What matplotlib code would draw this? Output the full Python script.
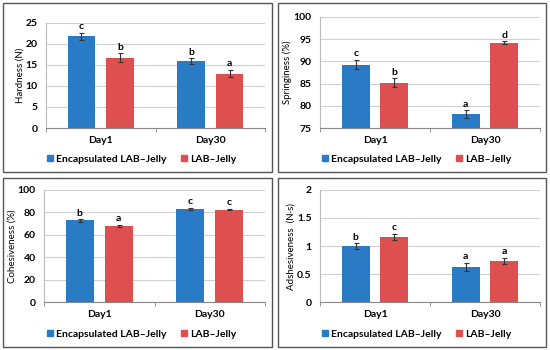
import matplotlib.pyplot as plt
from matplotlib.patches import Rectangle
from matplotlib.lines import Line2D
import numpy as np

plt.rcParams['font.family'] = ['Lato', 'DejaVu Sans']

days = ['Day1', 'Day30']
series = ['Encapsulated LAB\u2013Jelly', 'LAB\u2013Jelly']

hard_enc = [21.8, 15.9]
hard_enc_err = [0.8, 0.7]
hard_lab = [16.7, 12.9]
hard_lab_err = [1.0, 0.9]
hard_let_enc = ['c', 'b']
hard_let_lab = ['b', 'a']

spr_enc = [89.3, 78.1]
spr_enc_err = [1.1, 0.9]
spr_lab = [85.2, 94.2]
spr_lab_err = [1.0, 0.3]
spr_let_enc = ['c', 'a']
spr_let_lab = ['b', 'd']

coh_enc = [72.8, 83.0]
coh_enc_err = [1.0, 1.0]
coh_lab = [68.0, 82.5]
coh_lab_err = [0.7, 0.5]
coh_let_enc = ['b', 'c']
coh_let_lab = ['a', 'c']

adh_enc = [1.00, 0.63]
adh_enc_err = [0.05, 0.07]
adh_lab = [1.16, 0.73]
adh_lab_err = [0.06, 0.06]
adh_let_enc = ['b', 'a']
adh_let_lab = ['c', 'a']

BLUE = '#2A7BC6'
RED = '#DE4F4F'
W, H = 550, 350

fig = plt.figure(figsize=(5.5, 3.5), dpi=100)


def px_axes(left, right, top, bottom):
    return fig.add_axes([left / W, (H - bottom) / H, (right - left) / W, (bottom - top) / H])


def frame(x0, x1, y0, y1):
    fig.patches.append(Rectangle((x0 / W, (H - y1) / H), (x1 - x0) / W, (y1 - y0) / H,
                                 transform=fig.transFigure, fill=False,
                                 edgecolor='#555555', linewidth=1.0))


def panel(box, ax_box, enc, enc_err, lab, lab_err, let_enc, let_lab, ylim, step, ylabel, leg_x, leg_y):
    frame(*box)
    ax = px_axes(*ax_box)
    x = np.arange(len(days))
    bw = 0.255
    off = 0.176
    ek = dict(ecolor='#333333', elinewidth=0.8, capsize=1.8, capthick=0.8)
    ax.bar(x - off, enc, bw, color=BLUE, yerr=enc_err, error_kw=ek, zorder=3)
    ax.bar(x + off, lab, bw, color=RED, yerr=lab_err, error_kw=ek, zorder=3)
    pad = (ylim[1] - ylim[0]) * 0.015
    for i in range(len(days)):
        ax.text(x[i] - off, enc[i] + enc_err[i] + pad, let_enc[i], ha='center', va='bottom',
                fontsize=7.5, fontweight='bold')
        ax.text(x[i] + off, lab[i] + lab_err[i] + pad, let_lab[i], ha='center', va='bottom',
                fontsize=7.5, fontweight='bold')
    ax.set_xlim(-0.5, 1.5)
    ax.set_ylim(*ylim)
    ax.set_yticks(np.arange(ylim[0], ylim[1] + step / 2, step))
    ax.yaxis.set_major_formatter(plt.FuncFormatter(lambda v, p: ('%g' % v)))
    ax.set_xticks(x)
    ax.set_xticklabels(days, fontweight='bold', fontsize=7.5)
    ax.set_xticks([-0.5, 0.5, 1.5], minor=True)
    ax.tick_params(axis='x', which='major', length=0, pad=6)
    ax.tick_params(axis='x', which='minor', length=3, color='#888888')
    ax.tick_params(axis='y', length=0, labelsize=7.5, pad=6)
    for t in ax.get_yticklabels():
        t.set_fontweight('bold')
    ax.grid(axis='y', color='#D0D0D0', linewidth=0.8, zorder=0)
    ax.set_axisbelow(True)
    for s in ['top', 'right']:
        ax.spines[s].set_visible(False)
    ax.spines['left'].set_color('#BBBBBB')
    ax.spines['bottom'].set_color('#888888')
    ax.set_ylabel(ylabel, fontsize=7, labelpad=1)
    handles = [Line2D([], [], marker='s', color=c, linestyle='none', markersize=5) for c in (BLUE, RED)]
    ax.legend(handles, series, loc='center', bbox_to_anchor=(leg_x / W, (H - leg_y) / H),
              bbox_transform=fig.transFigure, ncol=2, frameon=False, handletextpad=0.0,
              handlelength=1.2, columnspacing=1.0, prop={'weight': 'bold', 'size': 7.5})
    return ax


panel((3, 272, 3, 172), (46, 265, 22.7, 128), hard_enc, hard_enc_err, hard_lab, hard_lab_err,
      hard_let_enc, hard_let_lab, (0, 25), 5, 'Hardness (N)', 140, 159)
panel((278, 546, 3, 172), (320, 540, 17, 128), spr_enc, spr_enc_err, spr_lab, spr_lab_err,
      spr_let_enc, spr_let_lab, (75, 100), 5, 'Springiness (%)', 415, 159)
panel((3, 272, 178, 347), (44, 265, 190, 302), coh_enc, coh_enc_err, coh_lab, coh_lab_err,
      coh_let_enc, coh_let_lab, (0, 100), 20, 'Cohesiveness (%)', 140, 334)
panel((278, 546, 178, 347), (320, 540, 190, 302), adh_enc, adh_enc_err, adh_lab, adh_lab_err,
      adh_let_enc, adh_let_lab, (0, 2), 0.5, 'Adshesiveness  (N\u00b7s)', 415, 334)

fig.savefig('out.png', dpi=100)
